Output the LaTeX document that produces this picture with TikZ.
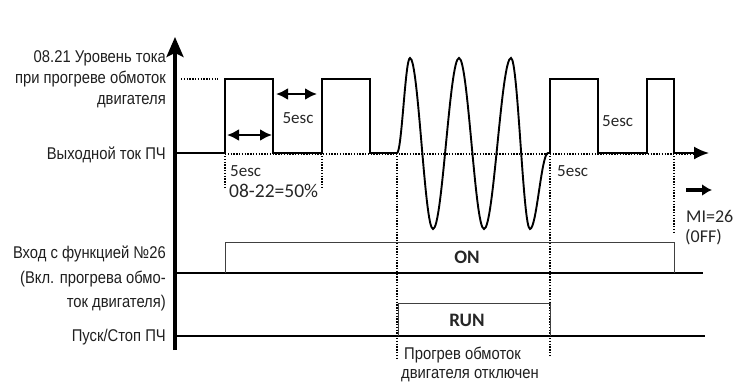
\documentclass[tikz,border=0pt]{standalone}
\usepackage{fontspec}
\setmainfont{Liberation Sans}[FakeStretch=0.87]
\newfontfamily\carl{Carlito}
\usetikzlibrary{arrows.meta}
\begin{document}
\begin{tikzpicture}[x=1pt,y=-1pt,
  lbl/.style={font=\fontsize{17}{20}\selectfont, anchor=base east, inner sep=0pt, text=black!88},
  txt/.style={font=\fontsize{17}{20}\selectfont, anchor=base west, inner sep=0pt, text=black!88},
  cb/.style={font=\carl\fontsize{18}{20}\selectfont, inner sep=0pt, text=black!85},
  sig/.style={line width=1.9pt, line join=miter},
  dotl/.style={line width=1.5pt, dash pattern=on 1.4pt off 1.4pt},
  box/.style={line width=0.9pt, draw=black!75},
  base/.style={line width=2pt},
  dbl/.style={line width=2.8pt, {Latex[length=12pt,width=12pt]}-{Latex[length=12pt,width=12pt]}},
]
\useasboundingbox (0,0) rectangle (738,383);

% axis
\coordinate (axb) at (175,350);
\coordinate (axt) at (175,37);
\draw[line width=3.3pt, -{Stealth[length=20pt,width=17pt,inset=4pt]}] (axb) -- (axt);

% left labels
\node[lbl] (l1) at (166,62.5) {08.21 Уровень тока};
\node[lbl] (l2) at (166,83) {при прогреве обмоток};
\node[lbl] (l3) at (166,104) {двигателя};
\node[lbl] (l4) at (166,159) {Выходной ток ПЧ};
\node[lbl] (l5) at (166,258) {Вход с функцией №26};
\node[lbl] (l6) at (166,283) {(Вкл. прогрева обмо-};
\node[lbl] (l7) at (166,307) {ток двигателя)};
\node[lbl] (l8) at (166,341) {Пуск/Стоп ПЧ};

% level dotted
\coordinate (lv1) at (181,79);
\coordinate (lv2) at (218,79);
\draw[dotl] (lv1) -- (lv2);

% baseline dotted
\coordinate (bd1) at (225,154);
\coordinate (bd2) at (700,154);
\draw[dotl] (bd1) -- (bd2);

% output current signal
\coordinate (s0) at (175,153);
\coordinate (send) at (709,153);
\draw[sig] (s0) -- (225,153) -- (225,79) -- (273,79) -- (273,153) -- (322,153) -- (322,79) -- (370,79) -- (370,153) -- (397,153)
  cos (403.5,105.5) sin (410,58) cos (421.5,143.5) sin (433,229)
  cos (446,143.5) sin (459,58) cos (471.5,143.5) sin (484,229)
  cos (497.5,143.5) sin (511,58) cos (520.5,143.5) sin (530,229)
  cos (539,191) sin (548,153)
  -- (550,153) -- (550,79) -- (598,79) -- (598,153) -- (647,153) -- (647,79) -- (674,79) -- (674,153) -- (695,153);
\draw[line width=1.9pt, -{Latex[length=15pt,width=13pt]}] (694,153) -- (send);

% vertical dotted
\coordinate (v1a) at (225,156); \coordinate (v1b) at (225,187);
\coordinate (v2a) at (322,156); \coordinate (v2b) at (322,188);
\coordinate (v3a) at (397,156); \coordinate (v3b) at (397,358);
\coordinate (v4a) at (550,156); \coordinate (v4b) at (550,356);
\coordinate (v5a) at (674,156); \coordinate (v5b) at (674,232);
\foreach \a/\b in {v1a/v1b,v2a/v2b,v3a/v3b,v4a/v4b,v5a/v5b} \draw[dotl] (\a) -- (\b);

% double arrows
\coordinate (d1a) at (227,135); \coordinate (d1b) at (272,135);
\coordinate (d2a) at (276,94); \coordinate (d2b) at (317,94);
\draw[dbl] (d1a) -- (d1b);
\draw[dbl] (d2a) -- (d2b);

% small labels
\node[cb, font=\carl\fontsize{17}{20}\selectfont] (e1) at (298,118) {5esc};
\node[cb, font=\carl\fontsize{17}{20}\selectfont, anchor=west] (e2) at (230,171) {5esc};
\node[cb, font=\carl\fontsize{19.5}{20}\selectfont, anchor=west] (e3) at (229,191) {08-22=50\%};
\node[cb, font=\carl\fontsize{17}{20}\selectfont, anchor=west] (e4) at (557,171) {5esc};
\node[cb, font=\carl\fontsize{17}{20}\selectfont, anchor=west] (e5) at (602,121) {5esc};

% MI arrow
\coordinate (ma) at (686,190); \coordinate (mb) at (712,190);
\draw[line width=3.8pt, -{Latex[length=10pt,width=12pt]}] (ma) -- (mb);
\node[cb, anchor=west] (mi1) at (686,216) {MI=26};
\node[cb, anchor=west] (mi2) at (685,237) {(0FF)};

% ON channel
\coordinate (on0) at (175,273); \coordinate (on1) at (703,273);
\draw[base] (on0) -- (on1);
\draw[box] (225,273) -- (225,242) -- (674,242) -- (674,273);
\node[cb, font=\carl\bfseries\fontsize{19}{20}\selectfont] (on) at (467,257) {ON};

% RUN channel
\coordinate (rn0) at (175,335.5); \coordinate (rn1) at (705,335.5);
\draw[base] (rn0) -- (rn1);
\draw[box] (398,335.5) -- (398,303) -- (550,303) -- (550,335.5);
\node[cb, font=\carl\bfseries\fontsize{19}{20}\selectfont] (run) at (467,320) {RUN};

% bottom note
\node[txt] (n1) at (404,359) {Прогрев обмоток};
\node[txt] (n2) at (401,378) {двигателя отключен};
\end{tikzpicture}
\end{document}
